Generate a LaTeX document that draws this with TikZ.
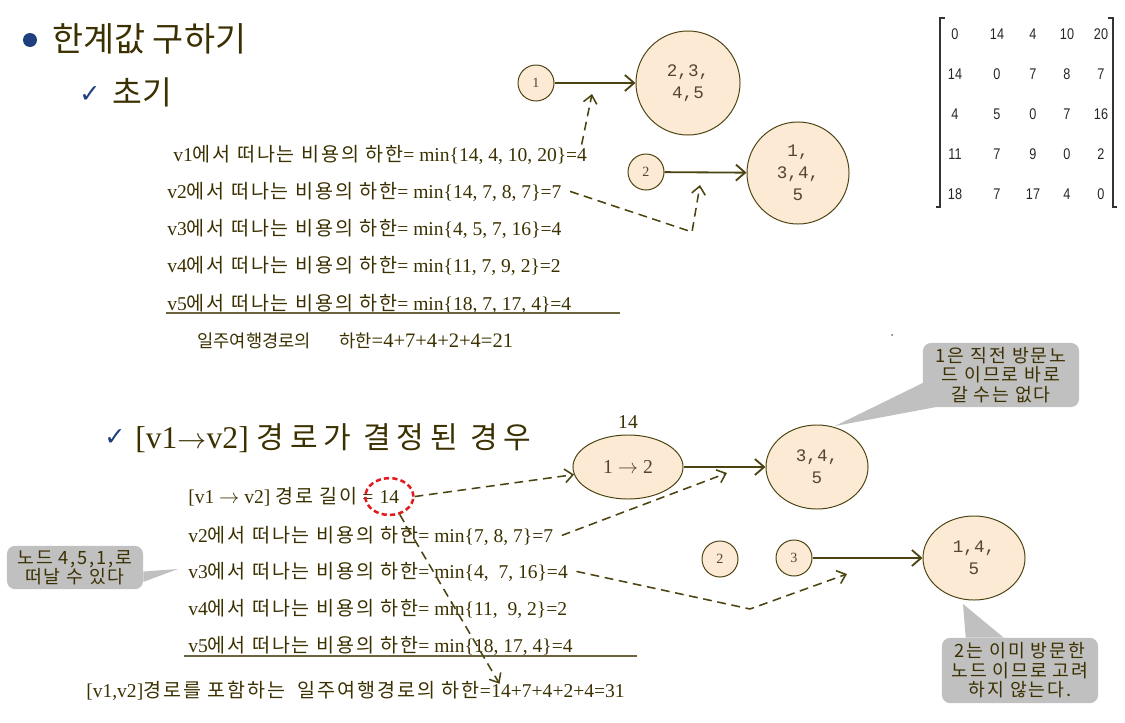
\documentclass[tikz,border=0pt]{standalone}
\usepackage{fontspec}
\usepackage{xcolor}
\usepackage{tikz}
\usetikzlibrary{arrows.meta,positioning,shapes.geometric}
\setmainfont{Liberation Serif}
\setmonofont{Liberation Mono}
\newfontfamily\hangul[LetterSpace=10]{Noto Sans CJK KR}
\newfontfamily\hangultight[Scale=0.86]{Noto Sans CJK KR}
\newfontfamily\hanhead{Noto Sans CJK KR}
\newfontfamily\hanwide[Scale=0.95,LetterSpace=19]{Noto Sans CJK KR}
\newfontfamily\matfont[FakeStretch=0.82]{Liberation Sans}
\newfontfamily\symfont{DejaVu Sans}
\definecolor{ink}{HTML}{3B3000}
\definecolor{wire}{HTML}{4B4310}
\definecolor{peach}{HTML}{FDEAD5}
\definecolor{bubble}{HTML}{C0C0C0}
\definecolor{navy}{HTML}{1F3F7F}
\definecolor{alarm}{HTML}{E31A1C}
\definecolor{soft}{HTML}{554433}

\begin{document}
\begin{tikzpicture}[x=0.025cm,y=-0.025cm,
    row/.style={anchor=base west,inner sep=0pt,text=ink,font=\fontsize{13.9}{16}\selectfont},
    head/.style={anchor=west,inner sep=0pt,text=ink,font=\hanhead\fontsize{24}{27}\selectfont},
    tick/.style={inner sep=0pt,text=navy,font=\symfont\fontsize{18}{20}\selectfont},
    vtx/.style={circle,draw=wire,fill=peach,line width=0.7pt,minimum size=0.9cm,inner sep=0pt,
      text=soft,font=\fontsize{10}{12}\selectfont},
    cand/.style={ellipse,draw=wire,fill=peach,line width=0.7pt,inner sep=0pt,align=center,
      text=soft,font=\ttfamily\fontsize{12.5}{15.5}\selectfont},
    solidto/.style={-{Straight Barb[length=2.3mm,width=4mm]},line width=1.3pt,wire},
    dashto/.style={-{Straight Barb[length=2mm,width=3.4mm]},line width=1.1pt,wire,
      dash pattern=on 2.2mm off 1.4mm},
    callout/.style={fill=bubble,rounded corners=2mm,align=center,inner sep=0pt,text=ink,
      font=\hangul\fontsize{13}{13.8}\selectfont}]
  \useasboundingbox (0,0) rectangle (1125,723);

  \node[circle,fill=navy,minimum size=3.5mm,inner sep=0pt] (dot1) at (30,40) {};
  \node[head] (head1) at (52,38.5) {한계값 구하기};
  \node[tick] (tick1) at (90,95) {✓};
  \node[head,font=\hanhead\fontsize{23}{26}\selectfont] (head2) at (112,92) {초기};

  \node[row] (r1) at (173,161) {v1{\hangul 에서 떠나는 비용의 하한}= min\{14, 4, 10, 20\}=4};
  \node[row] (r2) at (167,198) {v2{\hangul 에서 떠나는 비용의 하한}= min\{14, 7, 8, 7\}=7};
  \node[row] (r3) at (167,235) {v3{\hangul 에서 떠나는 비용의 하한}= min\{4, 5, 7, 16\}=4};
  \node[row] (r4) at (167,272) {v4{\hangul 에서 떠나는 비용의 하한}= min\{11, 7, 9, 2\}=2};
  \node[row] (r5) at (167,310) {v5{\hangul 에서 떠나는 비용의 하한}= min\{18, 7, 17, 4\}=4};
  \draw[ink!75,line width=0.8pt] (166,313) -- (620,313);
  \node[row,font=\fontsize{14.6}{16}\selectfont] (sum1) at (197,347) {{\hangultight 일주여행경로의\hspace{1.6em}하한}=4+7+4+2+4=21};

  \node[vtx] (n1) at (536,83) {1};
  \node[cand,minimum size=2.6cm] (s1) at (688,83) {2,3,\\4,5};
  \node[vtx] (n2) at (646,172) {2};
  \node[cand,minimum size=2.55cm] (s2) at (798,173) {1,\\3,4,\\5};
  \draw[solidto] (n1) -- (s1);
  \draw[solidto] (n2) -- (s2);
  \coordinate (t1) at (592,94);
  \coordinate (b2) at (692,232);
  \coordinate (t2) at (700,185);
  \draw[dashto] ([xshift=-4pt]r1.north east) -- (t1);
  \draw[dashto] ([xshift=6pt]r2.east) -- (b2) -- (t2);

  \draw[black!80,line width=0.8pt] (945,18) -- (940,18) -- (940,207) -- (936,207);
  \draw[black!80,line width=0.8pt] (1108,18) -- (1113,18) -- (1113,207) -- (1117,207);
  \foreach \row [count=\i] in {{0,14,4,10,20},{14,0,7,8,7},{4,5,0,7,16},{11,7,9,0,2},{18,7,17,4,0}}
    \foreach \v [count=\j] in \row {
      \pgfmathsetmacro\mx{{955,997,1033,1067,1101}[\j-1]}
      \node[font=\matfont\fontsize{11}{13}\selectfont,text=black!85] (m\i\j) at (\mx,{34+40*(\i-1)}) {\v};
    }
  \fill[black!60] (892,335) circle [radius=1];

  \node[tick] (tick3) at (115,438) {✓};
  \node[anchor=base west,inner sep=0pt,text=ink,font=\fontsize{22.5}{26}\selectfont] (head3)
    at (135,448) {[v1$\rightarrow$v2] {\hanwide 경로가 결정된 경우}};

  \node[row] (q1) at (188,503) {[v1 $\rightarrow$ v2] {\hangul 경로 길이} =};
  \node[row] (len) at ([xshift=4pt]q1.base east) {14};
  \node[ellipse,draw=alarm,line width=1.8pt,dash pattern=on 1.3mm off 0.8mm,
    minimum width=1.2cm,minimum height=0.92cm,inner sep=0pt] (ring) at (len.center) {};
  \node[row] (q2) at (188,542) {v2{\hangul 에서 떠나는 비용의 하한}= min\{7, 8, 7\}=7};
  \node[row] (q3) at (188,578) {v3{\hangul 에서 떠나는 비용의 하한}= min\{4,\ \ 7, 16\}=4};
  \node[row] (q4) at (188,615) {v4{\hangul 에서 떠나는 비용의 하한}= min\{11,\ \ 9, 2\}=2};
  \node[row] (q5) at (188,652) {v5{\hangul 에서 떠나는 비용의 하한}= min\{18, 17, 4\}=4};
  \draw[ink!75,line width=0.8pt] (184,656) -- (637,656);
  \node[row] (sum2a) at (86,697) {[v1,v2]{\hangul 경로를 포함하는\ \ 일주여행경로의 하한}=};
  \node[row] (sum2b) at (sum2a.base east) {14+7+4+2+4=31};

  \node[cand,minimum width=2.75cm,minimum height=1.6cm,font=\fontsize{14}{16}\selectfont] (e12) at (628,467) {1 $\rightarrow$ 2};
  \node[inner sep=0pt,text=ink,font=\fontsize{13.9}{16}\selectfont,above=1.4mm of e12] (w12) {14};
  \node[cand,minimum width=2.55cm,minimum height=2.1cm] (s3) at (817,467) {3,4,\\5};
  \node[vtx] (c2) at (720,559) {2};
  \node[vtx] (c3) at (794,558) {3};
  \node[cand,minimum width=2.55cm,minimum height=2.1cm] (s4) at (974,558) {1,4,\\5};
  \draw[solidto] (e12) -- (s3);
  \draw[solidto] (c3) -- (s4);
  \coordinate (t3) at (727,473);
  \coordinate (b4) at (750,609);
  \coordinate (t4) at (847,574);
  \draw[dashto] (ring.east) -- (e12.188);
  \draw[dashto] ([xshift=6pt]q2.east) -- (t3);
  \draw[dashto] (ring.300) -- ([xshift=6pt]sum2b.north west);
  \draw[dashto] ([xshift=6pt]q3.east) -- (b4) -- (t4);

  \node[callout,minimum width=3.9cm,minimum height=1.6cm] (note1) at (1001,375) {1은 직전 방문노\\드 이므로 바로\\갈 수는 없다};
  \coordinate (tip1) at (835,426);
  \fill[bubble] (tip1) -- ([yshift=-2mm]note1.west) -- ([xshift=3mm]note1.south west) -- cycle;
  \node[callout,minimum width=3.9cm,minimum height=1.63cm] (note2) at (1020,670.5) {2는 이미 방문한\\노드 이므로 고려\\하지 않는다.};
  \coordinate (tip2) at (963,604);
  \fill[bubble] (tip2) -- ([xshift=6mm]note2.north west) -- ([xshift=15.5mm]note2.north west) -- cycle;
  \node[callout,minimum width=3.4cm,minimum height=1.08cm] (note3) at (75,567.5) {노드 4,5,1,로\\떠날 수 있다};
  \coordinate (tip3) at (178,569);
  \fill[bubble] (tip3) -- ([yshift=-1mm]note3.east) -- ([yshift=-3.6mm]note3.east) -- cycle;
\end{tikzpicture}
\end{document}
